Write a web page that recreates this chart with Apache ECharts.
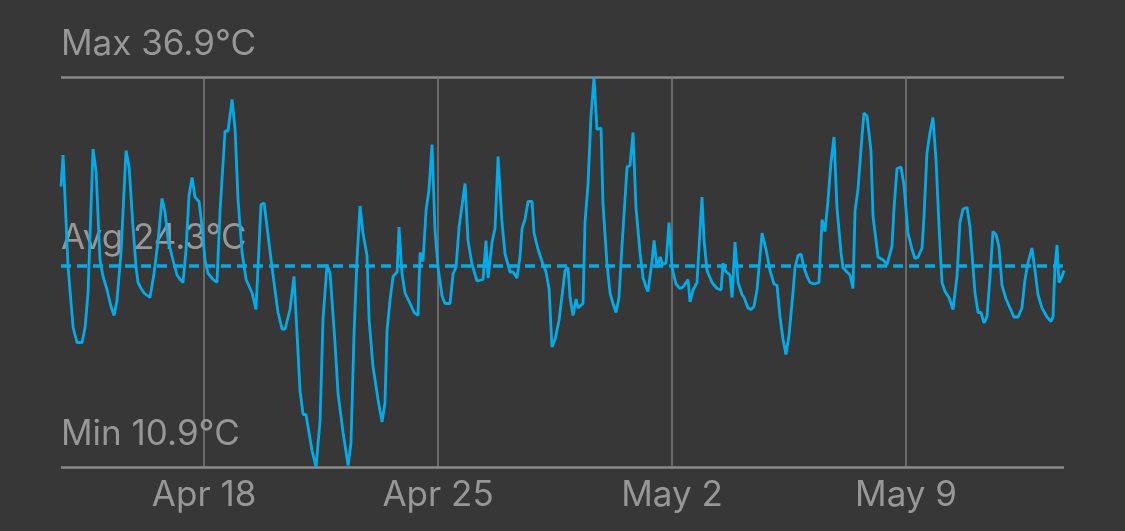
<!DOCTYPE html>
<html>
<head>
<meta charset="utf-8">
<script src="https://cdn.jsdelivr.net/npm/echarts@6/dist/echarts.min.js"></script>
<style>
html,body{margin:0;padding:0;background:#373737;}
#chart{width:1125px;height:531px;}
</style>
</head>
<body>
<div id="chart"></div>
<script>
// Hours since Apr 13 00:00 (UTC)
const hours = [17.3,18.8,22.4,26.0,28.8,32.4,34.6,36.7,40.3,42.5,45.3,47.5,50.4,53.2,55.4,57.5,60.4,64.0,66.2,69.0,71.2,72.6,74.8,76.9,81.2,84.1,87.0,89.8,92.0,94.2,97.7,100.6,102.8,104.9,107.1,109.2,111.4,113.5,116.4,118.6,120.7,122.9,126.5,129.3,131.5,135.1,137.2,140.1,142.3,144.4,147.3,150.2,154.5,157.3,160.9,163.1,168.8,173.1,176.0,178.2,181.7,184.6,188.9,191.1,193.2,197.5,200.4,203.3,205.4,208.3,210.5,214.0,216.2,219.8,223.4,225.5,227.7,229.8,232.0,234.1,237.0,238.5,241.3,244.9,247.8,249.9,251.4,253.5,255.7,258.6,260.0,262.1,264.3,267.9,270.8,273.6,275.1,277.2,279.4,281.5,283.7,285.8,288.0,290.9,293.0,296.6,298.8,300.9,303.1,307.4,309.5,312.4,316.0,320.3,322.4,323.9,326.8,328.9,331.1,333.9,336.1,339.7,341.8,344.7,346.9,348.3,350.4,352.6,355.5,356.9,359.8,363.4,365.5,367.7,369.8,372.0,374.9,379.2,381.3,382.8,384.9,387.1,388.5,392.1,393.5,395.7,397.8,400.0,402.1,405.0,406.4,409.3,411.5,413.6,415.8,417.9,420.1,423.7,425.8,428.0,430.1,433.0,435.2,437.3,438.7,441.6,443.1,445.2,447.4,449.5,451.7,453.8,456.0,458.8,461.7,463.9,467.5,468.9,471.1,473.9,475.4,477.5,479.0,481.1,484.7,488.3,491.2,492.6,494.0,497.6,499.1,501.2,503.4,506.2,507.7,510.5,512.7,514.8,517.0,519.2,520.6,523.5,526.3,529.2,531.4,533.5,535.7,537.8,540.0,542.8,544.3,546.4,548.6,550.7,552.9,555.0,557.9,561.5,563.7,565.8,568.0,570.1,572.3,574.4,577.3,578.7,581.6,583.8,585.9,587.4,589.5,592.4,593.8,596.0,598.8,600.3,603.9,607.5,610.3,613.9,615.4,617.5,620.4,622.5,625.4,628.3,630.4,632.6,635.5,636.9,639.0,641.2,643.3,645.5,647.7,649.8,652.0,654.8,657.7,660.6,662.7,664.9,667.8,669.9,672.1,673.5,675.7,677.8,680.0,682.1,684.3,686.4,688.6,690.7,692.9,695.8,698.6,701.5,704.4,707.2,709.4,711.5,714.4,716.6,718.7,721.6,725.2,728.1,729.5,730.9,732.4,733.8,736.0,737.4];
const temps = [29.6,31.7,24.2,20.2,19.2,19.2,20.2,22.5,32.1,30.6,24.7,23.6,22.7,21.6,21.0,22.0,25.2,32.0,30.9,26.9,24.2,23.2,22.8,22.5,22.2,23.8,26.0,28.8,27.9,26.0,24.7,23.7,23.4,23.2,25.4,29.0,30.2,28.9,28.6,26.9,24.7,23.8,23.4,23.2,28.0,33.3,33.3,35.4,33.4,28.7,25.2,23.4,22.5,21.4,28.4,28.5,24.2,21.2,20.1,20.1,21.4,23.6,16.0,14.4,14.4,12.0,10.9,14.0,20.7,24.4,23.8,19.2,15.8,13.2,11.0,12.5,19.8,24.7,28.3,26.5,25.0,20.7,17.6,15.4,13.9,15.2,20.0,22.0,23.6,23.9,26.9,23.8,22.5,21.8,21.2,21.0,25.2,24.6,28.0,29.4,32.4,26.7,24.2,22.3,21.8,21.8,23.8,24.2,26.9,29.8,26.0,24.4,23.3,23.4,26.0,23.5,25.9,26.8,31.6,27.2,25.1,23.9,23.9,23.5,25.0,26.8,27.4,28.6,28.6,26.5,25.4,24.4,23.9,22.8,18.9,19.4,20.7,24.0,24.2,22.2,21.0,22.1,21.5,21.8,27.2,29.8,34.3,36.9,33.4,33.5,28.5,24.4,22.5,21.8,21.2,22.2,25.7,30.9,31.0,33.2,28.2,25.2,23.5,22.9,22.6,24.6,26.0,24.2,24.9,24.4,24.5,27.2,24.2,23.1,22.8,22.9,23.4,21.9,22.7,23.2,25.6,28.9,26.0,24.0,23.2,22.8,22.7,24.5,24.0,23.7,22.2,25.9,23.2,22.4,22.2,21.5,21.4,21.6,22.7,25.0,26.5,25.4,24.0,23.1,23.0,20.9,19.4,18.4,19.7,22.5,24.2,25.0,25.1,24.2,23.6,23.2,23.1,23.2,27.4,26.6,28.7,31.2,32.9,28.2,25.2,24.2,23.9,23.7,22.8,28.0,29.4,33.0,34.5,34.3,32.0,27.6,24.9,24.7,24.4,25.6,28.2,30.8,30.9,29.7,26.5,25.4,24.8,24.9,25.5,27.6,31.8,33.2,34.2,31.4,26.9,23.2,22.6,22.2,21.4,23.6,27.2,28.1,28.2,26.9,24.2,22.5,21.2,21.2,20.5,20.9,23.6,26.6,26.4,25.6,23.0,22.1,21.5,20.9,20.9,21.5,23.4,24.5,25.5,24.0,22.4,21.5,20.9,20.6,20.9,24.2,25.7,23.2,23.6,24.0];
const avgTemp = 24.3;
const tickDates = ['2024-04-18','2024-04-25','2024-05-02','2024-05-09'];
const monthNames = ['Jan','Feb','Mar','Apr','May','Jun','Jul','Aug','Sep','Oct','Nov','Dec'];

const base = Date.UTC(2024, 3, 13);
const data = hours.map((h, i) => [h, temps[i]]);
const maxTemp = Math.max(...temps);
const minTemp = Math.min(...temps);
const tickHours = tickDates.map(s => (Date.parse(s + 'T00:00:00Z') - base) / 3600000);

const textColor = '#979797';
const font = 'Inter';
const fs = 35;
const chart = echarts.init(document.getElementById('chart'));
chart.setOption({
  backgroundColor: '#373737',
  animation: false,
  grid: { left: 61, right: 61, top: 77, bottom: 64, containLabel: false },
  xAxis: {
    type: 'value',
    min: hours[0],
    max: hours[hours.length - 1],
    axisLine: { show: false },
    axisTick: { show: false, customValues: tickHours },
    axisLabel: {
      customValues: tickHours,
      color: textColor, fontFamily: font, fontSize: fs, margin: 11,
      formatter: function (v) { const d = new Date(base + v * 3600000); return monthNames[d.getUTCMonth()] + ' ' + d.getUTCDate(); }
    },
    splitLine: { show: false }
  },
  yAxis: {
    type: 'value', min: minTemp, max: maxTemp,
    axisLine: { show: false }, axisTick: { show: false }, axisLabel: { show: false },
    splitLine: { show: false }
  },
  series: [{
    type: 'line',
    data: data,
    showSymbol: false,
    z: 3,
    lineStyle: { color: '#00adeb', width: 2.8 },
    markLine: {
      silent: true,
      symbol: 'none',
      z: 1,
      data: [
        { yAxis: maxTemp, lineStyle: { color: '#8a8a8a', width: 2.5, type: 'solid' },
          label: { formatter: 'Max ' + maxTemp.toFixed(1) + '°C', position: 'insideStartTop', distance: [0, 15], color: textColor, fontFamily: font, fontSize: fs } },
        { yAxis: minTemp, lineStyle: { color: '#8a8a8a', width: 2.5, type: 'solid' },
          label: { formatter: 'Min ' + minTemp.toFixed(1) + '°C', position: 'insideStartTop', distance: [0, 15], color: textColor, fontFamily: font, fontSize: fs } },
        { yAxis: avgTemp, lineStyle: { color: '#00adeb', width: 3.5, type: [10, 6] },
          label: { formatter: 'Avg ' + avgTemp.toFixed(1) + '°C', position: 'insideStartTop', distance: [0, 10], color: textColor, fontFamily: font, fontSize: fs } }
      ].concat(tickHours.map(h => ({ xAxis: h, lineStyle: { color: '#7c7c7c', width: 1.5, type: 'solid' }, label: { show: false } })))
    }
  }]
});
</script>
</body>
</html>
